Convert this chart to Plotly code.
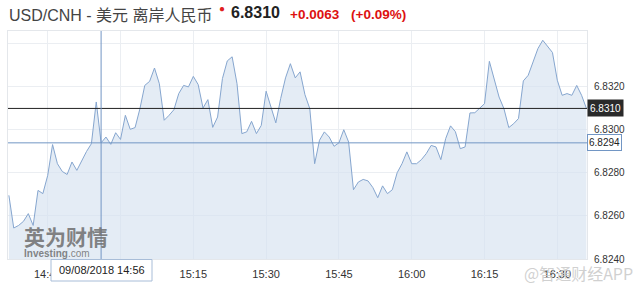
import plotly.graph_objects as go
import pandas as pd

# ---- data ----
start_time = "2018-08-09 14:37"
prices = [
    6.82696, 6.82544, 6.82556, 6.82575, 6.82611, 6.82556, 6.82719, 6.82704, 6.82789, 6.82932,
    6.82843, 6.82807, 6.82793, 6.82851, 6.82812, 6.82859, 6.82900, 6.82936, 6.83130, 6.82940,
    6.82967, 6.82933, 6.82987, 6.82956, 6.83068, 6.83003, 6.83011, 6.83099, 6.83207, 6.83226,
    6.83288, 6.83215, 6.83045, 6.83068, 6.83094, 6.83169, 6.83207, 6.83200, 6.83249, 6.83211,
    6.83102, 6.83141, 6.83012, 6.83060, 6.83239, 6.83321, 6.83340, 6.83215, 6.82983, 6.82991,
    6.83040, 6.82983, 6.83021, 6.83180, 6.83107, 6.83033, 6.83146, 6.83242, 6.83308, 6.83242,
    6.83270, 6.83164, 6.83099, 6.82843, 6.82952, 6.82991, 6.82967, 6.82924, 6.82940, 6.83001,
    6.82944, 6.82722, 6.82758, 6.82770, 6.82763, 6.82732, 6.82685, 6.82740, 6.82704, 6.82722,
    6.82801, 6.82843, 6.82898, 6.82843, 6.82843, 6.82862, 6.82890, 6.82928, 6.82921, 6.82862,
    6.82960, 6.83019, 6.82992, 6.82913, 6.82921, 6.83079, 6.83080, 6.83099, 6.83122, 6.83319,
    6.83231, 6.83153, 6.83099, 6.83011, 6.83029, 6.83053, 6.83228, 6.83254, 6.83316, 6.83378,
    6.83417, 6.83386, 6.83360, 6.83231, 6.83161, 6.83169, 6.83161, 6.83207, 6.83161, 6.83100,
]
times = pd.date_range(start=start_time, periods=len(prices), freq="1min")

last_price = 6.8310
cursor_time = "2018-08-09 14:56"
cursor_price = 6.8294
cursor_label = "09/08/2018 14:56"
y_tick_vals = [6.8240, 6.8260, 6.8280, 6.8300, 6.8320, 6.8340]
y_tick_text = ["6.8240", "6.8260", "6.8280", "6.8300", "6.8320", ""]
x_range = ["2018-08-09 14:36:49", "2018-08-09 16:36:07"]
y_range = [6.8240, 6.83460]

title_text = "USD/CNH - 美元 离岸人民币"
price_text = "6.8310"
change_text = "+0.0063"
pct_text = "(+0.09%)"

# ---- layout helpers (pixel -> paper) ----
W, H = 643, 290
L, R, T, B = 8, 56, 31, 31
PW, PH = W - L - R, H - T - B


def px(x):
    return (x - L) / PW


def py(y):
    return (H - B - y) / PH


FONT = "Liberation Sans, Arial, Noto Sans CJK SC, sans-serif"
LINE = "#86a6cf"
FILL = "rgba(213,226,240,0.65)"

fig = go.Figure()
fig.add_trace(go.Scatter(
    x=times, y=prices, mode="lines",
    line=dict(color=LINE, width=1),
    fill="tozeroy", fillcolor=FILL,
    hoverinfo="skip", showlegend=False,
))

shapes = [
    # last price line
    dict(type="line", xref="paper", yref="y", x0=0, x1=1, y0=last_price, y1=last_price,
         line=dict(color="#222222", width=1)),
    # crosshair horizontal
    dict(type="line", xref="paper", yref="y", x0=0, x1=1, y0=cursor_price, y1=cursor_price,
         line=dict(color="#7296c4", width=1)),
    # crosshair vertical
    dict(type="line", xref="x", yref="paper", x0=cursor_time, x1=cursor_time, y0=0, y1=1,
         line=dict(color="#7296c4", width=1)),
    # tooltip box for date
    dict(type="rect", xref="paper", yref="paper", x0=px(51), x1=px(152), y0=py(281), y1=py(259.5),
         fillcolor="white", line=dict(color="#a8bdd8", width=1)),
]

annotations = [
    dict(text=title_text, xref="paper", yref="paper", x=px(7), y=py(15), xanchor="left",
         yanchor="middle", showarrow=False, font=dict(family=FONT, size=16, color="#444444")),
    dict(text="●", xref="paper", yref="paper", x=px(222), y=py(8.5), xanchor="center",
         yanchor="middle", showarrow=False, font=dict(family=FONT, size=10, color="#e02020")),
    dict(text="<b>" + price_text + "</b>", xref="paper", yref="paper", x=px(229), y=py(13),
         xanchor="left", yanchor="middle", showarrow=False,
         font=dict(family=FONT, size=16, color="#222222")),
    dict(text="<b>" + change_text + "</b>", xref="paper", yref="paper", x=px(288), y=py(14),
         xanchor="left", yanchor="middle", showarrow=False,
         font=dict(family=FONT, size=13.5, color="#dd1111")),
    dict(text="<b>" + pct_text + "</b>", xref="paper", yref="paper", x=px(349), y=py(14),
         xanchor="left", yanchor="middle", showarrow=False,
         font=dict(family=FONT, size=13.5, color="#dd1111")),
    # last price label
    dict(text=price_text, xref="paper", yref="y", x=px(586.7), y=last_price, xanchor="left",
         yanchor="middle", showarrow=False, bgcolor="#2a2a2a", width=33, height=14, borderpad=1,
         font=dict(family=FONT, size=10, color="white")),
    # cursor price label
    dict(text=f"{cursor_price:.4f}", xref="paper", yref="y", x=px(586.7), y=cursor_price,
         xanchor="left", yanchor="middle", showarrow=False, bgcolor="white", bordercolor="#7296c4",
         borderwidth=1, width=31, height=13, borderpad=1,
         font=dict(family=FONT, size=10, color="#222222")),
    # date tooltip text
    dict(text=cursor_label, xref="paper", yref="paper", x=px(101.5), y=py(270), xanchor="center",
         yanchor="middle", showarrow=False, font=dict(family=FONT, size=11, color="#222222")),
    # investing watermark
    dict(text="<b>英为财情</b>", xref="paper", yref="paper", x=px(22), y=py(236), xanchor="left",
         yanchor="middle", showarrow=False,
         font=dict(family="Noto Sans CJK SC", size=21, color="rgba(110,110,110,0.85)")),
    dict(text="<b>Investing</b>.com", xref="paper", yref="paper", x=px(22), y=py(253), xanchor="left",
         yanchor="middle", showarrow=False,
         font=dict(family=FONT, size=10, color="rgba(110,110,110,0.85)")),
    # bottom-right watermark
    dict(text="@智通财经APP", xref="paper", yref="paper", x=px(578), y=py(273), xanchor="center",
         yanchor="middle", showarrow=False,
         font=dict(family="Noto Sans CJK SC", size=16, color="rgba(200,200,200,0.85)")),
]

fig.update_layout(
    width=W, height=H,
    margin=dict(l=L, r=R, t=T, b=B),
    paper_bgcolor="white", plot_bgcolor="white",
    showlegend=False,
    shapes=shapes,
    annotations=annotations,
    xaxis=dict(
        type="date", range=x_range, tickformat="%H:%M", dtick=15 * 60 * 1000,
        tick0="2018-08-09 14:45", showgrid=True, gridcolor="#ebeef2", gridwidth=1,
        zeroline=False, showline=True, linecolor="#e4e7eb", mirror=True, ticks="",
        ticklabelstandoff=5,
        tickfont=dict(family=FONT, size=11, color="#333333"),
    ),
    yaxis=dict(
        range=y_range, side="right", tickvals=y_tick_vals, ticktext=y_tick_text,
        showgrid=True, gridcolor="#ebeef2", gridwidth=1, zeroline=False,
        showline=True, linecolor="#e4e7eb", mirror=True, ticks="",
        ticklabelstandoff=4,
        tickfont=dict(family=FONT, size=10, color="#333333"),
    ),
)

fig.write_html("out.html")
